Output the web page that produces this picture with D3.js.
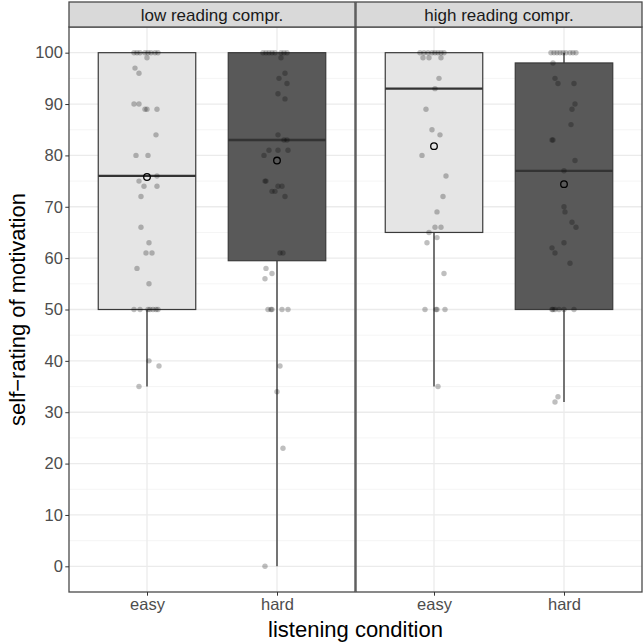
<!DOCTYPE html>
<html><head><meta charset="utf-8">
<script src="https://cdn.jsdelivr.net/npm/d3@7"></script>
<style>body{margin:0;background:#fff;} svg{display:block;}</style>
</head><body><svg id="c" width="644" height="643"></svg>
<script>
// ---- data ----
const facets = ["low reading compr.", "high reading compr."];
const conditions = ["easy", "hard"];
const yTicks = [0,10,20,30,40,50,60,70,80,90,100];
const minorTicks = [5,15,25,35,45,55,65,75,85,95];
// box statistics, order: low-easy, low-hard, high-easy, high-hard
const groupFacet = [0, 0, 1, 1];
const groupCond  = ["easy", "hard", "easy", "hard"];
const q1          = [50, 59.5, 65, 50];
const medians     = [76, 83, 93, 77];
const q3          = [100, 100, 100, 98];
const whiskerLow  = [35, 0, 35, 32];
const whiskerHigh = [100, 100, 100, 100];
const means       = [75.8, 79, 81.8, 74.4];
// individual ratings and their horizontal jitter (fraction of category step)
const lowEasyVals = [100,100,100,100,100,100,100,100,99,97,96,90,90,89,89,89,84,80,80,76,75,74,74,72,66,63,61,61,58,55,50,50,50,50,50,50,50,40,39,35];
const lowEasyJit  = [-13,-10,-7,-2,1,4,8,11,0,-12,-8,-13,-8,-2,0,10,9,-11,1,10,-8,-3,10,-6,-6,2,-1,5,-10,2,-13,-7,1,3,6,9,11,2,12,-8];
const lowHardVals = [100,100,100,100,100,100,100,100,99,96,95,94,92,91,84,83,83,81,81,81,80,75,75,74,74,73,73,72,61,61,58,57,56,50,50,50,50,50,39,34,23,0];
const lowHardJit  = [-14,-11,-8,-5,-2,4,7,10,4,8,2,10,1,8,1,7,10,-8,1,11,-13,-12,-11,1,5,-5,-2,8,3,6,-11,-5,-12,-9,-6,-5,5,11,3,0,6,-12];
const highEasyVals = [100,100,100,100,100,100,100,100,99,99,99,95,93,89,85,84,80,76,72,69,66,66,65,64,63,57,50,50,50,50,35];
const highEasyJit  = [-14,-10,-6,-2,1,4,7,10,-11,-5,7,5,1,-8,-2,6,-12,12,9,3,1,7,-5,3,-7,10,-9,2,3,11,4];
const highHardVals = [100,100,100,100,100,100,100,100,100,98,95,94,94,90,89,86,83,83,79,77,70,69,67,66,63,62,61,59,50,50,50,50,50,50,33,32];
const highHardJit  = [-13,-10,-7,-4,-1,2,6,9,12,-11,-9,-6,10,11,8,7,-12,-11,11,0,0,1,8,12,0,-12,-9,6,-12,-11,-9,-5,0,10,-6,-9];
const pointVals = [lowEasyVals, lowHardVals, highEasyVals, highHardVals];
const pointJit  = [lowEasyJit, lowHardJit, highEasyJit, highHardJit];
const boxFills = {easy: "#e5e5e5", hard: "#595959"};

// ---- layout ----
const FONT = "Liberation Sans, Arial, Helvetica, sans-serif";
const svg = d3.select("#c");
const panelTop = 27, panelBottom = 592, stripTop = 2;
const panelLeft = [69, 356], panelW = 286;
const y = d3.scaleLinear().domain([-5, 105]).range([panelBottom, panelTop]);
const xs = panelLeft.map(l => d3.scalePoint().domain(conditions).range([l + panelW*0.6/2.2, l + panelW*1.6/2.2]));
const step = panelW / 2.2;
const boxW = step * 0.75;

facets.forEach((f, i) => {
  const l = panelLeft[i], x = xs[i];
  const g = svg.append("g");
  g.append("rect").attr("x", l).attr("y", panelTop).attr("width", panelW).attr("height", panelBottom - panelTop).attr("fill", "#fff");
  g.selectAll(".mn").data(minorTicks).join("line")
    .attr("x1", l).attr("x2", l + panelW).attr("y1", d => y(d)).attr("y2", d => y(d))
    .attr("stroke", "#f2f2f2").attr("stroke-width", 0.8);
  g.selectAll(".mj").data(yTicks).join("line")
    .attr("x1", l).attr("x2", l + panelW).attr("y1", d => y(d)).attr("y2", d => y(d))
    .attr("stroke", "#ebebeb").attr("stroke-width", 1.3);
  g.selectAll(".vx").data(conditions).join("line")
    .attr("x1", d => x(d)).attr("x2", d => x(d)).attr("y1", panelTop).attr("y2", panelBottom)
    .attr("stroke", "#ebebeb").attr("stroke-width", 1.3);
});

// boxes
d3.range(4).forEach(k => {
  const x = xs[groupFacet[k]], cx = x(groupCond[k]);
  const g = svg.append("g");
  g.append("line").attr("x1", cx).attr("x2", cx).attr("y1", y(whiskerLow[k])).attr("y2", y(q1[k]))
    .attr("stroke", "#4a4a4a").attr("stroke-width", 1.5);
  g.append("line").attr("x1", cx).attr("x2", cx).attr("y1", y(whiskerHigh[k])).attr("y2", y(q3[k]))
    .attr("stroke", "#4a4a4a").attr("stroke-width", 1.5);
  g.append("rect").attr("x", cx - boxW/2).attr("width", boxW).attr("y", y(q3[k])).attr("height", y(q1[k]) - y(q3[k]))
    .attr("fill", boxFills[groupCond[k]]).attr("stroke", "#3a3a3a").attr("stroke-width", 1.2);
  g.append("line").attr("x1", cx - boxW/2).attr("x2", cx + boxW/2).attr("y1", y(medians[k])).attr("y2", y(medians[k]))
    .attr("stroke", "#333").attr("stroke-width", 2.3);
  g.selectAll("circle.pt").data(pointVals[k].map((v, j) => ({v, j: pointJit[k][j]}))).join("circle")
    .attr("cx", d => cx + d.j / 130 * step).attr("cy", d => y(d.v)).attr("r", 2.7)
    .attr("fill", "#000").attr("fill-opacity", 0.25);
  g.append("circle").attr("cx", cx).attr("cy", y(means[k])).attr("r", 3.3)
    .attr("fill", "none").attr("stroke", "#000").attr("stroke-width", 1.3);
});

// panel borders, strips, x axes
facets.forEach((f, i) => {
  const l = panelLeft[i], x = xs[i];
  svg.append("rect").attr("x", l).attr("y", panelTop).attr("width", panelW).attr("height", panelBottom - panelTop)
    .attr("fill", "none").attr("stroke", "#4a4a4a").attr("stroke-width", 1.3);
  svg.append("rect").attr("x", l).attr("y", stripTop).attr("width", panelW).attr("height", panelTop - stripTop)
    .attr("fill", "#d9d9d9").attr("stroke", "#4a4a4a").attr("stroke-width", 1.3);
  svg.append("text").attr("x", l + panelW/2).attr("y", (stripTop + panelTop)/2).attr("dy", "0.36em")
    .attr("text-anchor", "middle").attr("font-family", FONT).attr("font-size", 17)
    .attr("fill", "#1a1a1a").text(f);
  const ax = svg.append("g").attr("transform", `translate(0,${panelBottom})`)
    .call(d3.axisBottom(x).tickSize(3.7).tickPadding(2.5));
  ax.select(".domain").remove();
  ax.selectAll("line").attr("stroke", "#333");
  ax.selectAll("text").attr("font-family", FONT).attr("font-size", 16.5).attr("fill", "#4d4d4d");
});

// y axis
const ay = svg.append("g").attr("transform", `translate(${panelLeft[0]},0)`)
  .call(d3.axisLeft(y).tickValues(yTicks).tickSize(3.7).tickPadding(2.5));
ay.select(".domain").remove();
ay.selectAll("line").attr("stroke", "#333");
ay.selectAll("text").attr("font-family", FONT).attr("font-size", 16.5).attr("fill", "#4d4d4d");

// titles
svg.append("text").attr("x", (panelLeft[0] + panelLeft[1] + panelW)/2).attr("y", 637)
  .attr("text-anchor", "middle").attr("font-family", FONT).attr("font-size", 22)
  .attr("fill", "#000").text("listening condition");
svg.append("text").attr("transform", `translate(25,${(panelTop + panelBottom)/2}) rotate(-90)`)
  .attr("text-anchor", "middle").attr("font-family", FONT).attr("font-size", 22)
  .attr("fill", "#000").text("self\u2212rating of motivation");
</script></body></html>
